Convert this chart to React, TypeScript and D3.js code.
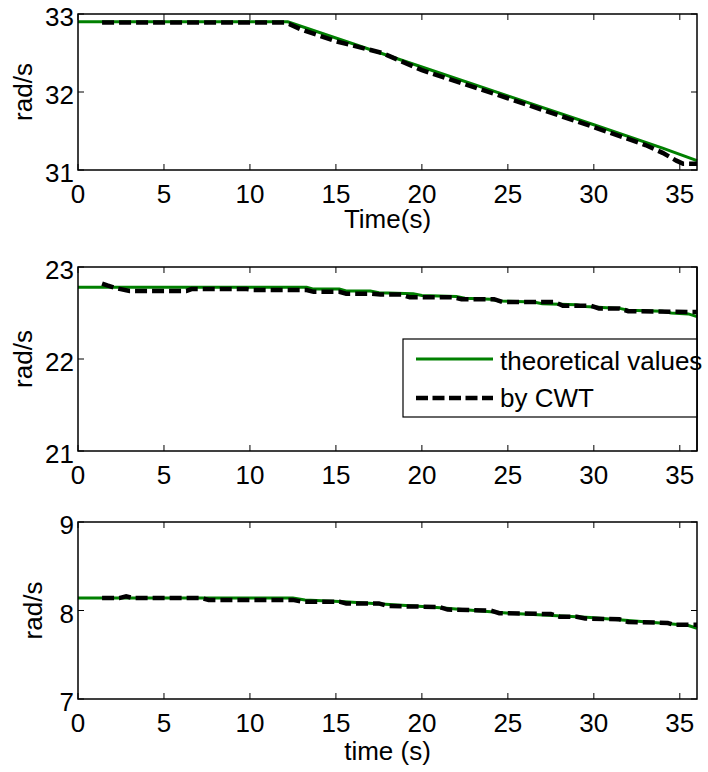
import React from "react";
import * as d3 from "d3";

// ---------- data ----------
const xTicks = [0, 5, 10, 15, 20, 25, 30, 35];

// Panel 1
const p1TheoT = [0, 12.2, 20, 25, 30, 34, 35, 36];
const p1TheoV = [32.9, 32.9, 32.32, 31.95, 31.58, 31.28, 31.2, 31.12];
const p1CwtT = [1.4, 12.0, 12.3, 13, 15, 17.7, 20, 25, 30, 33, 34, 34.8, 35.2, 36];
const p1CwtV = [32.89, 32.89, 32.87, 32.8, 32.65, 32.5, 32.28, 31.92, 31.55, 31.32, 31.22, 31.12, 31.08, 31.08];
const p1YTicks = [31, 32, 33];

// Panel 2
const p2TheoT = [0, 13.3, 13.7, 15.2, 15.6, 17.0, 17.5, 19.5, 20.0, 22.0, 22.5, 24.0, 24.5, 26.5, 27.0, 29.0, 29.5, 31.5, 32.0, 34.0, 34.5, 35.5, 36];
const p2TheoV = [22.78, 22.78, 22.76, 22.76, 22.74, 22.74, 22.72, 22.71, 22.69, 22.68, 22.66, 22.65, 22.63, 22.62, 22.6, 22.59, 22.57, 22.55, 22.53, 22.52, 22.5, 22.49, 22.46];
const p2CwtT = [1.4, 1.7, 2.2, 3.0, 6.3, 6.6, 9.8, 10.2, 13.3, 13.7, 15.2, 15.6, 17.0, 17.6, 18.8, 19.3, 21.8, 22.3, 24.2, 24.7, 27.7, 28.2, 29.8, 30.3, 31.5, 32.0, 36];
const p2CwtV = [22.82, 22.8, 22.77, 22.74, 22.74, 22.76, 22.76, 22.75, 22.75, 22.73, 22.73, 22.71, 22.71, 22.7, 22.7, 22.67, 22.67, 22.65, 22.65, 22.62, 22.62, 22.58, 22.58, 22.55, 22.55, 22.52, 22.51];
const p2YTicks = [21, 22, 23];

// Panel 3
const p3TheoT = [0, 12.5, 13.2, 15.5, 20.5, 25.1, 29.8, 34.4, 35.5, 36];
const p3TheoV = [8.14, 8.14, 8.12, 8.1, 8.04, 7.97, 7.92, 7.85, 7.83, 7.8];
const p3CwtT = [1.4, 2.4, 2.8, 3.2, 7.2, 7.6, 12.5, 13.0, 15.2, 15.6, 17.5, 18.0, 21.0, 21.5, 24.0, 24.5, 27.5, 28.0, 29.0, 29.5, 31.5, 32.0, 34.3, 34.6, 36];
const p3CwtV = [8.14, 8.14, 8.16, 8.14, 8.14, 8.12, 8.12, 8.1, 8.1, 8.08, 8.08, 8.05, 8.04, 8.01, 8.0, 7.97, 7.96, 7.93, 7.93, 7.91, 7.9, 7.87, 7.86, 7.84, 7.84];
const p3YTicks = [7, 8, 9];

const legendLabels = ["theoretical values", "by CWT"];

const FONT = "'Liberation Sans', Arial, Helvetica, sans-serif";
const FS = 26;
const GREEN = "#008000";

type PanelProps = {
  top: number;
  bottom: number;
  yDomain: [number, number];
  yTicks: number[];
  theoT: number[];
  theoV: number[];
  cwtT: number[];
  cwtV: number[];
  xLabel?: string;
  xLabelOffset?: number;
  yLabelX: number;
};

const LEFT = 78;
const RIGHT = 697;

function Panel(p: PanelProps) {
  const x = d3.scaleLinear().domain([0, 36]).range([LEFT, RIGHT]);
  const y = d3.scaleLinear().domain(p.yDomain).range([p.bottom, p.top]);
  const line = d3
    .line<[number, number]>()
    .x((d) => x(d[0]))
    .y((d) => y(d[1]));
  const theo = p.theoT.map((t, i) => [t, p.theoV[i]] as [number, number]);
  const cwt = p.cwtT.map((t, i) => [t, p.cwtV[i]] as [number, number]);
  const tl = 6;
  return (
    <g>
      <rect x={LEFT} y={p.top} width={RIGHT - LEFT} height={p.bottom - p.top} fill="white" />
      <path d={line(theo) || ""} fill="none" stroke={GREEN} strokeWidth={3} />
      <path d={line(cwt) || ""} fill="none" stroke="black" strokeWidth={4.5} strokeDasharray="12 5" />
      {xTicks.map((t) => (
        <g key={"x" + t}>
          <line x1={x(t)} x2={x(t)} y1={p.bottom} y2={p.bottom - tl} stroke="black" strokeWidth={1} />
          <line x1={x(t)} x2={x(t)} y1={p.top} y2={p.top + tl} stroke="black" strokeWidth={1} />
          <text x={x(t)} y={p.bottom + 33} textAnchor="middle" fontSize={FS} fontFamily={FONT}>
            {t}
          </text>
        </g>
      ))}
      {p.yTicks.map((v) => (
        <g key={"y" + v}>
          <line x1={LEFT} x2={LEFT + tl} y1={y(v)} y2={y(v)} stroke="black" strokeWidth={1} />
          <line x1={RIGHT} x2={RIGHT - tl} y1={y(v)} y2={y(v)} stroke="black" strokeWidth={1} />
          <text x={74} y={y(v) + 12} textAnchor="end" fontSize={FS} fontFamily={FONT}>
            {v}
          </text>
        </g>
      ))}
      <rect x={LEFT} y={p.top} width={RIGHT - LEFT} height={p.bottom - p.top} fill="none" stroke="black" strokeWidth={1.5} />
      <text
        transform={`translate(${p.yLabelX},${(p.top + p.bottom) / 2}) rotate(-90)`}
        textAnchor="middle"
        fontSize={FS}
        fontFamily={FONT}
      >
        rad/s
      </text>
      {p.xLabel && (
        <text x={(LEFT + RIGHT) / 2} y={p.bottom + (p.xLabelOffset || 58)} textAnchor="middle" fontSize={FS} fontFamily={FONT}>
          {p.xLabel}
        </text>
      )}
    </g>
  );
}

export default function App() {
  return (
    <svg
      width={708}
      height={772}
      style={{ position: "absolute", left: 0, top: 0, background: "white" }}
    >
      <rect width={708} height={772} fill="white" />
      <Panel
        top={14}
        bottom={170}
        yDomain={[31, 33]}
        yTicks={p1YTicks}
        theoT={p1TheoT}
        theoV={p1TheoV}
        cwtT={p1CwtT}
        cwtV={p1CwtV}
        xLabel="Time(s)"
        xLabelOffset={58}
        yLabelX={32}
      />
      <Panel
        top={267}
        bottom={451}
        yDomain={[21, 23]}
        yTicks={p2YTicks}
        theoT={p2TheoT}
        theoV={p2TheoV}
        cwtT={p2CwtT}
        cwtV={p2CwtV}
        yLabelX={32}
      />
      <Panel
        top={522}
        bottom={699}
        yDomain={[7, 9]}
        yTicks={p3YTicks}
        theoT={p3TheoT}
        theoV={p3TheoV}
        cwtT={p3CwtT}
        cwtV={p3CwtV}
        xLabel="time (s)"
        xLabelOffset={61}
        yLabelX={42}
      />
      {/* legend */}
      <g>
        <rect x={403} y={339} width={294} height={78} fill="white" stroke="black" strokeWidth={1.2} />
        <line x1={416} x2={493} y1={359} y2={359} stroke={GREEN} strokeWidth={3} />
        <line x1={416} x2={493} y1={398} y2={398} stroke="black" strokeWidth={4.5} strokeDasharray="12 4.5" />
        <text x={500} y={370} fontSize={FS} fontFamily={FONT}>
          {legendLabels[0]}
        </text>
        <text x={500} y={407} fontSize={FS} fontFamily={FONT}>
          {legendLabels[1]}
        </text>
        <line x1={697} x2={697} y1={267} y2={451} stroke="black" strokeWidth={1.5} />
      </g>
    </svg>
  );
}
